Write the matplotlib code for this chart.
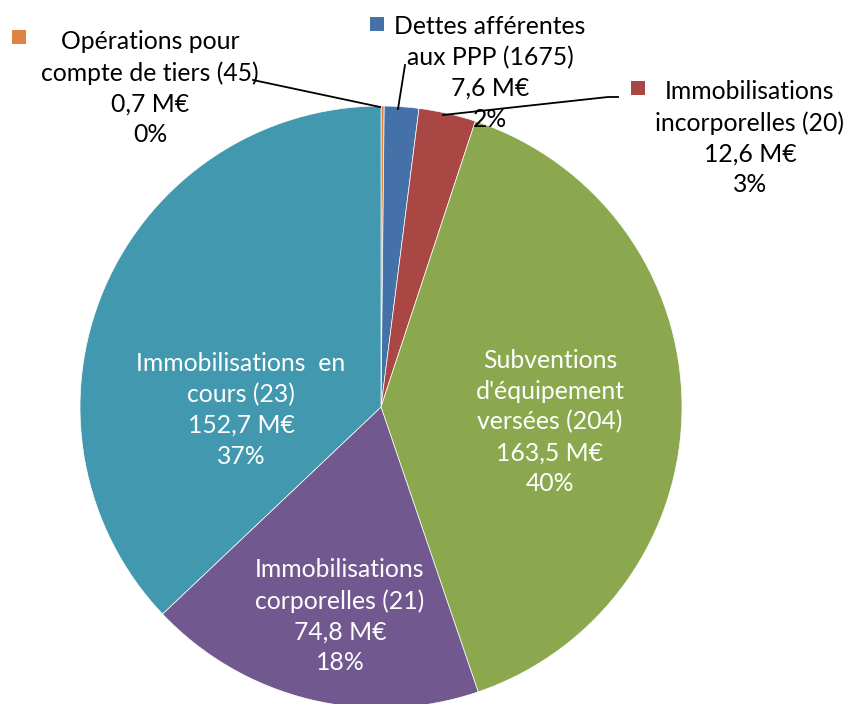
import matplotlib
matplotlib.use("Agg")
from matplotlib import pyplot as plt
from matplotlib.patches import Rectangle

plt.rcParams['font.family'] = ['Lato', 'DejaVu Sans']

# slices, clockwise from 12 o'clock
names = ["Opérations pour\ncompte de tiers (45)",
         "Dettes afférentes\naux PPP (1675)",
         "Immobilisations\nincorporelles (20)",
         "Subventions\nd'équipement\nversées (204)",
         "Immobilisations\ncorporelles (21)",
         "Immobilisations  en\ncours (23)"]
values = [0.7, 7.6, 12.6, 163.5, 74.8, 152.7]
colors = ["#DE8344", "#4471A7", "#A94744", "#8BA84F", "#71588F", "#4198AF"]

total = sum(values)
texts = []
for n, v in zip(names, values):
    pct = round(v / total * 100)
    texts.append("%s\n%s M€\n%d%%" % (n, ("%.1f" % v).replace(".", ","), pct))

fig = plt.figure(figsize=(8.54, 7.04), dpi=100)
ax = fig.add_axes([0, 0, 1, 1])
# pixel-like coordinates, y up
ax.pie(values, colors=colors, startangle=90, counterclock=False,
       center=(381, 704 - 407), radius=301,
       wedgeprops=dict(edgecolor="white", linewidth=0.5))
ax.set_xlim(0, 854)
ax.set_ylim(0, 704)
ax.set_aspect("equal")
ax.axis("off")

fs = 17.8
ls = 1.4

def Y(y):
    return 704 - y

# outside labels (black) with legend squares and leader lines
out = [(0, 150, 88, (19, 37)),
       (1, 490, 73, (377, 24)),
       (2, 750, 138, (638, 88))]
for i, x, y, sq in out:
    ax.text(x, Y(y), texts[i], ha="center", va="center", fontsize=fs,
            linespacing=ls, color="black")
    ax.add_patch(Rectangle((sq[0] - 7, Y(sq[1]) - 7), 14, 14,
                           facecolor=colors[i], edgecolor="none"))

ax.plot([253, 380], [Y(80), Y(107)], color="black", lw=1.3)
ax.plot([405, 398], [Y(65), Y(109)], color="black", lw=1.3)
ax.plot([618, 608, 443], [Y(97), Y(97), Y(115)], color="black", lw=1.3)

# inside labels (white)
inside = [(3, 550, 422), (4, 340, 616), (5, 241, 410)]
for i, x, y in inside:
    ax.text(x, Y(y), texts[i], ha="center", va="center", fontsize=fs,
            linespacing=ls, color="white")

fig.savefig("out.png", dpi=100)
